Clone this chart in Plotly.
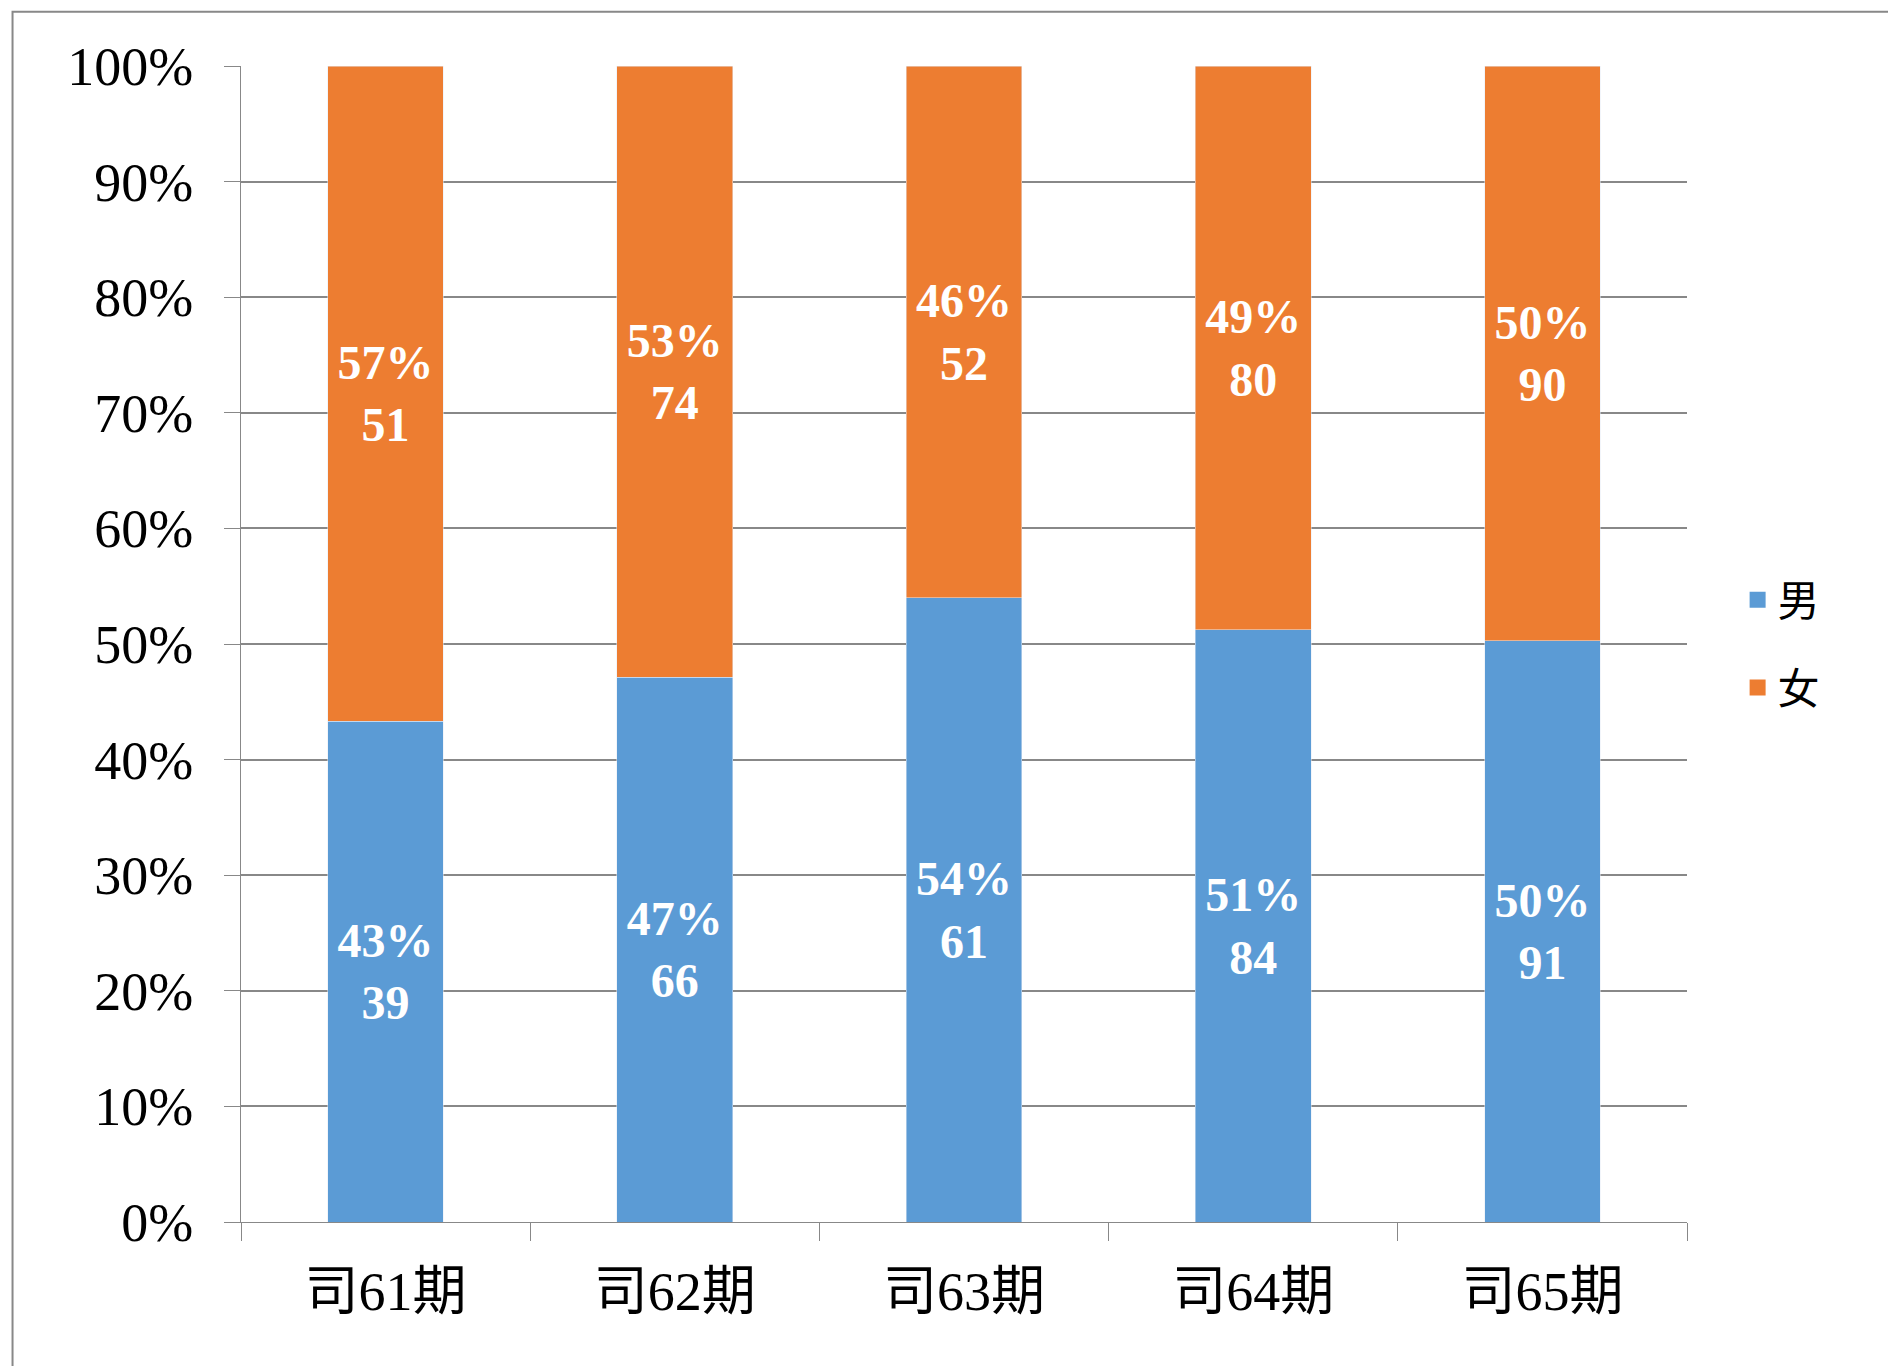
import plotly.graph_objects as go

categories = ['司61期', '司62期', '司63期', '司64期', '司65期']
male = [39, 66, 61, 84, 91]
female = [51, 74, 52, 80, 90]

tot = [m + f for m, f in zip(male, female)]
male_pct = [100 * m / t for m, t in zip(male, tot)]
female_pct = [100 * f / t for f, t in zip(female, tot)]

lbl_font = dict(family='Liberation Serif', size=48, color='white')
BLUE, ORANGE = '#5B9BD5', '#ED7D31'

fig = go.Figure()
fig.add_bar(x=categories, y=male_pct, name='男', marker_color=BLUE, showlegend=False,
            customdata=male, texttemplate='<b>%{y:.0f}%<br>%{customdata}</b>',
            textposition='inside', insidetextanchor='middle', textfont=lbl_font,
            constraintext='none')
fig.add_bar(x=categories, y=female_pct, name='女', marker_color=ORANGE, showlegend=False,
            customdata=female, texttemplate='<b>%{y:.0f}%<br>%{customdata}</b>',
            textposition='inside', insidetextanchor='middle', textfont=lbl_font,
            constraintext='none')
# legend entries with larger square symbols
fig.add_scatter(x=[None], y=[None], mode='markers', name='男', legendgroup='m',
                marker=dict(symbol='square', size=28, color=BLUE))
fig.add_scatter(x=[None], y=[None], mode='markers', name='女', legendgroup='f',
                marker=dict(symbol='square', size=28, color=ORANGE))

fig.update_layout(
    barmode='stack', bargap=0.6,
    width=1896, height=1366,
    margin=dict(l=233, r=217, t=58, b=152),
    plot_bgcolor='white', paper_bgcolor='white',
    legend=dict(traceorder='reversed+grouped', x=1.035, y=0.5, yanchor='middle',
                font=dict(family='Noto Sans CJK SC', size=42, color='black'),
                tracegroupgap=30, itemwidth=30),
    font=dict(family='Liberation Serif', color='black'),
)
fig.update_xaxes(showline=True, linecolor='#888', ticks='outside', tickson='boundaries',
                 ticklen=18, tickcolor='#888', ticklabelstandoff=22,
                 tickfont=dict(family='Liberation Serif, Noto Sans CJK SC', size=54))
fig.update_yaxes(range=[0, 100], dtick=10, ticksuffix='%', showgrid=True, gridcolor='#888',
                 gridwidth=1.5, showline=True, linecolor='#888',
                 ticks='outside', ticklen=16, tickcolor='#888', ticklabelstandoff=20,
                 tickfont=dict(family='Liberation Serif', size=54))
fig.add_shape(type='rect', xref='paper', yref='paper', x0=-0.158, x1=1.146, y0=-0.128, y1=1.047,
              line=dict(color='#888', width=2))
fig.write_html('out.html')
